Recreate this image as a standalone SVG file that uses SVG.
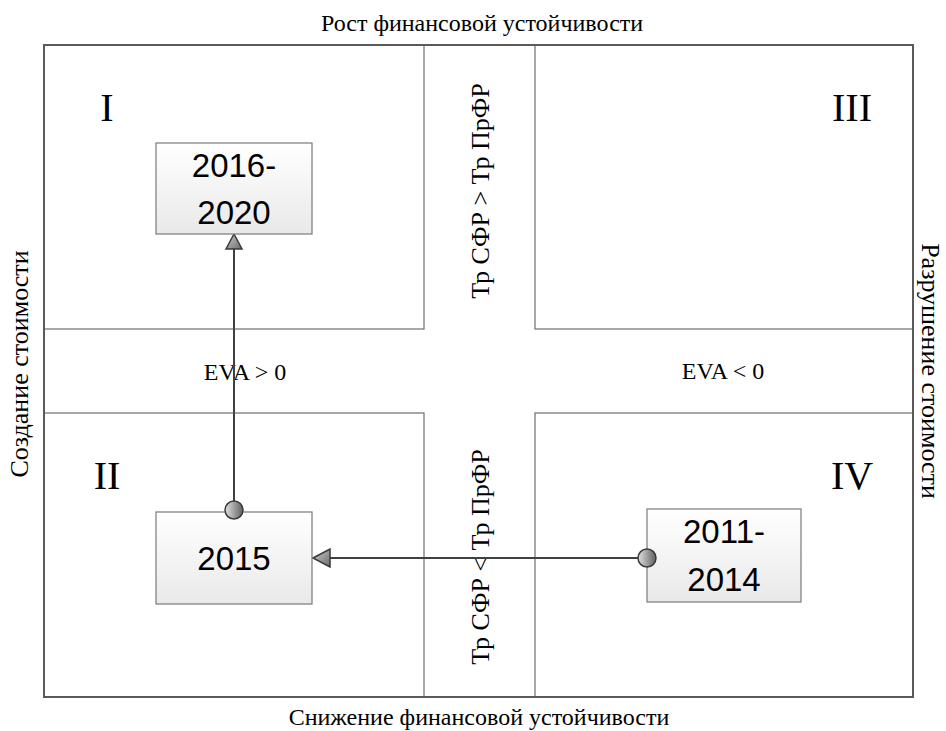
<svg xmlns="http://www.w3.org/2000/svg" width="946" height="731" viewBox="0 0 946 731">
<style>
.q{fill:none;stroke:#6e6e6e;stroke-width:1.2}
.frame{fill:none;stroke:#5a5a5a;stroke-width:2}
.t{font-family:"Liberation Serif","Times New Roman",serif;fill:#000}
.lab{font-size:24px}
.vl{font-size:26px}
.rom{font-size:40px}
.box{stroke:#7a7a7a;stroke-width:1.2;fill:url(#bg)}
.bt{font-family:"Liberation Sans",Arial,sans-serif;font-size:33px;fill:#000;text-anchor:middle}
.ln{stroke:#404040;stroke-width:2;fill:none}
.dot{fill:url(#dg);stroke:#3a3a3a;stroke-width:1.5}
.ah{fill:url(#ag);stroke:#3a3a3a;stroke-width:1.5}
</style>
<defs>
<linearGradient id="bg" x1="0" y1="0" x2="0" y2="1"><stop offset="0" stop-color="#ffffff"/><stop offset="1" stop-color="#e9e9e9"/></linearGradient>
<linearGradient id="dg" x1="0" y1="0" x2="1" y2="0"><stop offset="0" stop-color="#e0e0e0"/><stop offset="1" stop-color="#606060"/></linearGradient>
<linearGradient id="ag" x1="0" y1="0" x2="1" y2="1"><stop offset="0" stop-color="#d0d0d0"/><stop offset="1" stop-color="#6a6a6a"/></linearGradient>
</defs>
<rect width="946" height="731" fill="#fff"/>
<g id="quadrants">
<rect class="q" x="44" y="45" width="380" height="284"/>
<rect class="q" x="535" y="45" width="378" height="284"/>
<rect class="q" x="44" y="413" width="380" height="284"/>
<rect class="q" x="535" y="413" width="378" height="284"/>
<rect class="frame" x="44" y="45" width="869" height="652"/>
</g>
<g id="labels" class="t">
<text class="lab" x="482" y="31" text-anchor="middle">Рост финансовой устойчивости</text>
<text class="lab" x="479" y="725" text-anchor="middle">Снижение финансовой устойчивости</text>
<text class="vl" transform="translate(28,364) rotate(-90)" text-anchor="middle">Создание стоимости</text>
<text class="vl" transform="translate(922,371) rotate(90)" text-anchor="middle">Разрушение стоимости</text>
<text class="lab" x="245" y="380" text-anchor="middle">EVA &gt; 0</text>
<text class="lab" x="723" y="379" text-anchor="middle">EVA &lt; 0</text>
<text class="vl" transform="translate(489,191) rotate(-90)" text-anchor="middle">Тр СФР &gt; Тр ПрФР</text>
<text class="vl" transform="translate(489,557) rotate(-90)" text-anchor="middle">Тр СФР &lt; Тр ПрФР</text>
</g>
<g id="numerals" class="t rom" text-anchor="middle">
<text x="107" y="121">I</text>
<text x="852" y="121">III</text>
<text x="107" y="489">II</text>
<text x="852" y="489">IV</text>
</g>
<g id="connectors">
<line class="ln" x1="234" y1="510" x2="234" y2="248"/>
<polygon class="ah" points="234,234 242,249 226,249"/>
<line class="ln" x1="647" y1="558" x2="329" y2="558"/>
<polygon class="ah" points="313,558 330,549 330,567"/>
</g>
<g id="node-2016-2020">
<rect class="box" x="156" y="143" width="156" height="91"/>
<text class="bt" x="234" y="177">2016-</text>
<text class="bt" x="234" y="224">2020</text>
</g>
<g id="node-2015">
<rect class="box" x="156" y="512" width="156" height="92"/>
<text class="bt" x="234" y="570">2015</text>
</g>
<g id="node-2011-2014">
<rect class="box" x="647" y="509" width="154" height="93"/>
<text class="bt" x="724" y="543">2011-</text>
<text class="bt" x="724" y="591">2014</text>
</g>
<g id="endpoints">
<circle class="dot" cx="234" cy="510" r="9"/>
<circle class="dot" cx="647" cy="558" r="9"/>
</g>
</svg>
